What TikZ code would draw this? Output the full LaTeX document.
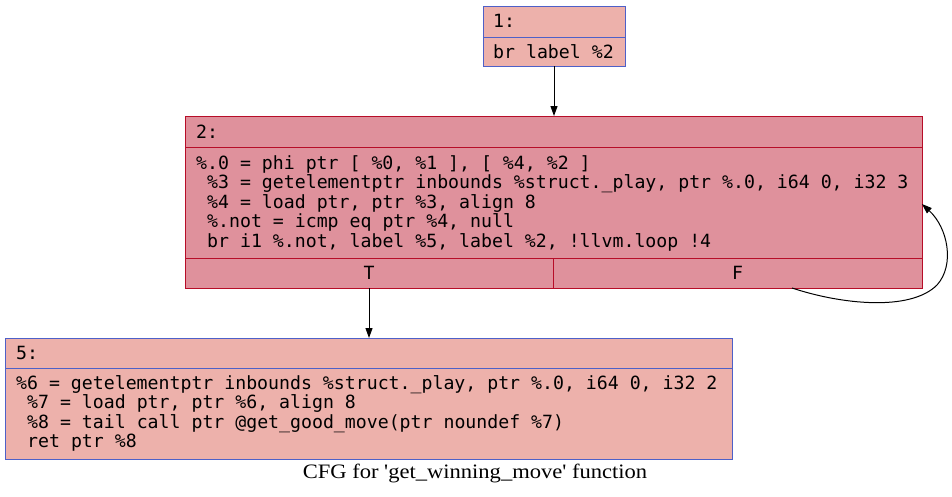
\documentclass[tikz,border=0pt]{standalone}
\usepackage{fontspec}
\setmonofont{DejaVu Sans Mono}
\newfontfamily\capfont{Liberation Serif}
\usetikzlibrary{arrows.meta}
\definecolor{coldfill}{RGB}{237,177,171}
\definecolor{coldline}{RGB}{78,96,200}
\definecolor{hotfill}{RGB}{223,145,156}
\definecolor{hotline}{RGB}{183,13,40}
\tikzset{
  cell/.style={draw, line width=1pt, inner sep=0pt, outer sep=0pt},
  cold/.style={cell, fill=coldfill, draw=coldline},
  hot/.style={cell, fill=hotfill, draw=hotline},
  code/.style={anchor=base west, inner sep=0pt, font=\ttfamily\fontsize{18.2}{19.5}\selectfont},
  ccode/.style={anchor=base, inner sep=0pt, font=\ttfamily\fontsize{18.2}{19.5}\selectfont},
  edge/.style={line width=1pt, -{Triangle[length=10pt,width=7pt]}},
}
\begin{document}
\begin{tikzpicture}[x=1pt,y=-1pt]
\useasboundingbox (0,0) rectangle (952,496);
% node 1
\node[cold, minimum width=142pt, minimum height=31pt] (n1h) at (554,21.5) {};
\node[cold, minimum width=142pt, minimum height=29pt] (n1b) at (554,51.5) {};
\node[code] (n1ht) at (493,27) {1:};
\node[code] (n1bt) at (493,58) {br label \%2};
% node 2
\node[hot, minimum width=737pt, minimum height=31pt] (n2h) at (553.5,131.5) {};
\node[hot, minimum width=737pt, minimum height=111pt] (n2b) at (553.5,202.5) {};
\node[hot, minimum width=368pt, minimum height=30pt] (n2t) at (369,273) {};
\node[hot, minimum width=369pt, minimum height=30pt] (n2f) at (737.5,273) {};
\node[code] (n2ht) at (196,138) {2:};
\node[code] (l21) at (196,169) {\%.0 = phi ptr [ \%0, \%1 ], [ \%4, \%2 ]};
\node[code] (l22) at (207,188.5) {\%3 = getelementptr inbounds \%struct.\_play, ptr \%.0, i64 0, i32 3};
\node[code] (l23) at (207,208) {\%4 = load ptr, ptr \%3, align 8};
\node[code] (l24) at (207,227.5) {\%.not = icmp eq ptr \%4, null};
\node[code] (l25) at (207,247) {br i1 \%.not, label \%5, label \%2, !llvm.loop !4};
\node[ccode] (tt) at (369,279) {T};
\node[ccode] (ft) at (737.5,279) {F};
% node 5
\node[cold, minimum width=727pt, minimum height=30pt] (n5h) at (368.5,353) {};
\node[cold, minimum width=727pt, minimum height=91pt] (n5b) at (368.5,413.5) {};
\node[code] (n5ht) at (16,359) {5:};
\node[code] (l51) at (16,389) {\%6 = getelementptr inbounds \%struct.\_play, ptr \%.0, i64 0, i32 2};
\node[code] (l52) at (27,408.5) {\%7 = load ptr, ptr \%6, align 8};
\node[code] (l53) at (27,428) {\%8 = tail call ptr @get\_good\_move(ptr noundef \%7)};
\node[code] (l54) at (27,447.5) {ret ptr \%8};
% caption
\node[anchor=base, inner sep=0pt, font=\capfont\fontsize{20.5}{22}\selectfont] (cap) at (475,478) {\scalebox{1.1}[1]{CFG for 'get\_winning\_move' function}};
% edges
\draw[edge] (n1b.south) -- (n2h.north -| n1b.south);
\draw[edge] (n2t.south) -- (n5h.north -| n2t.south);
\coordinate (fs) at (792,288);
\coordinate (loopin) at (n2b.east |- 0,204);
\draw[edge] (fs) .. controls (840,304) and (910,312) .. (937,285) .. controls (955,265) and (948,228) .. (loopin);
\end{tikzpicture}
\end{document}
